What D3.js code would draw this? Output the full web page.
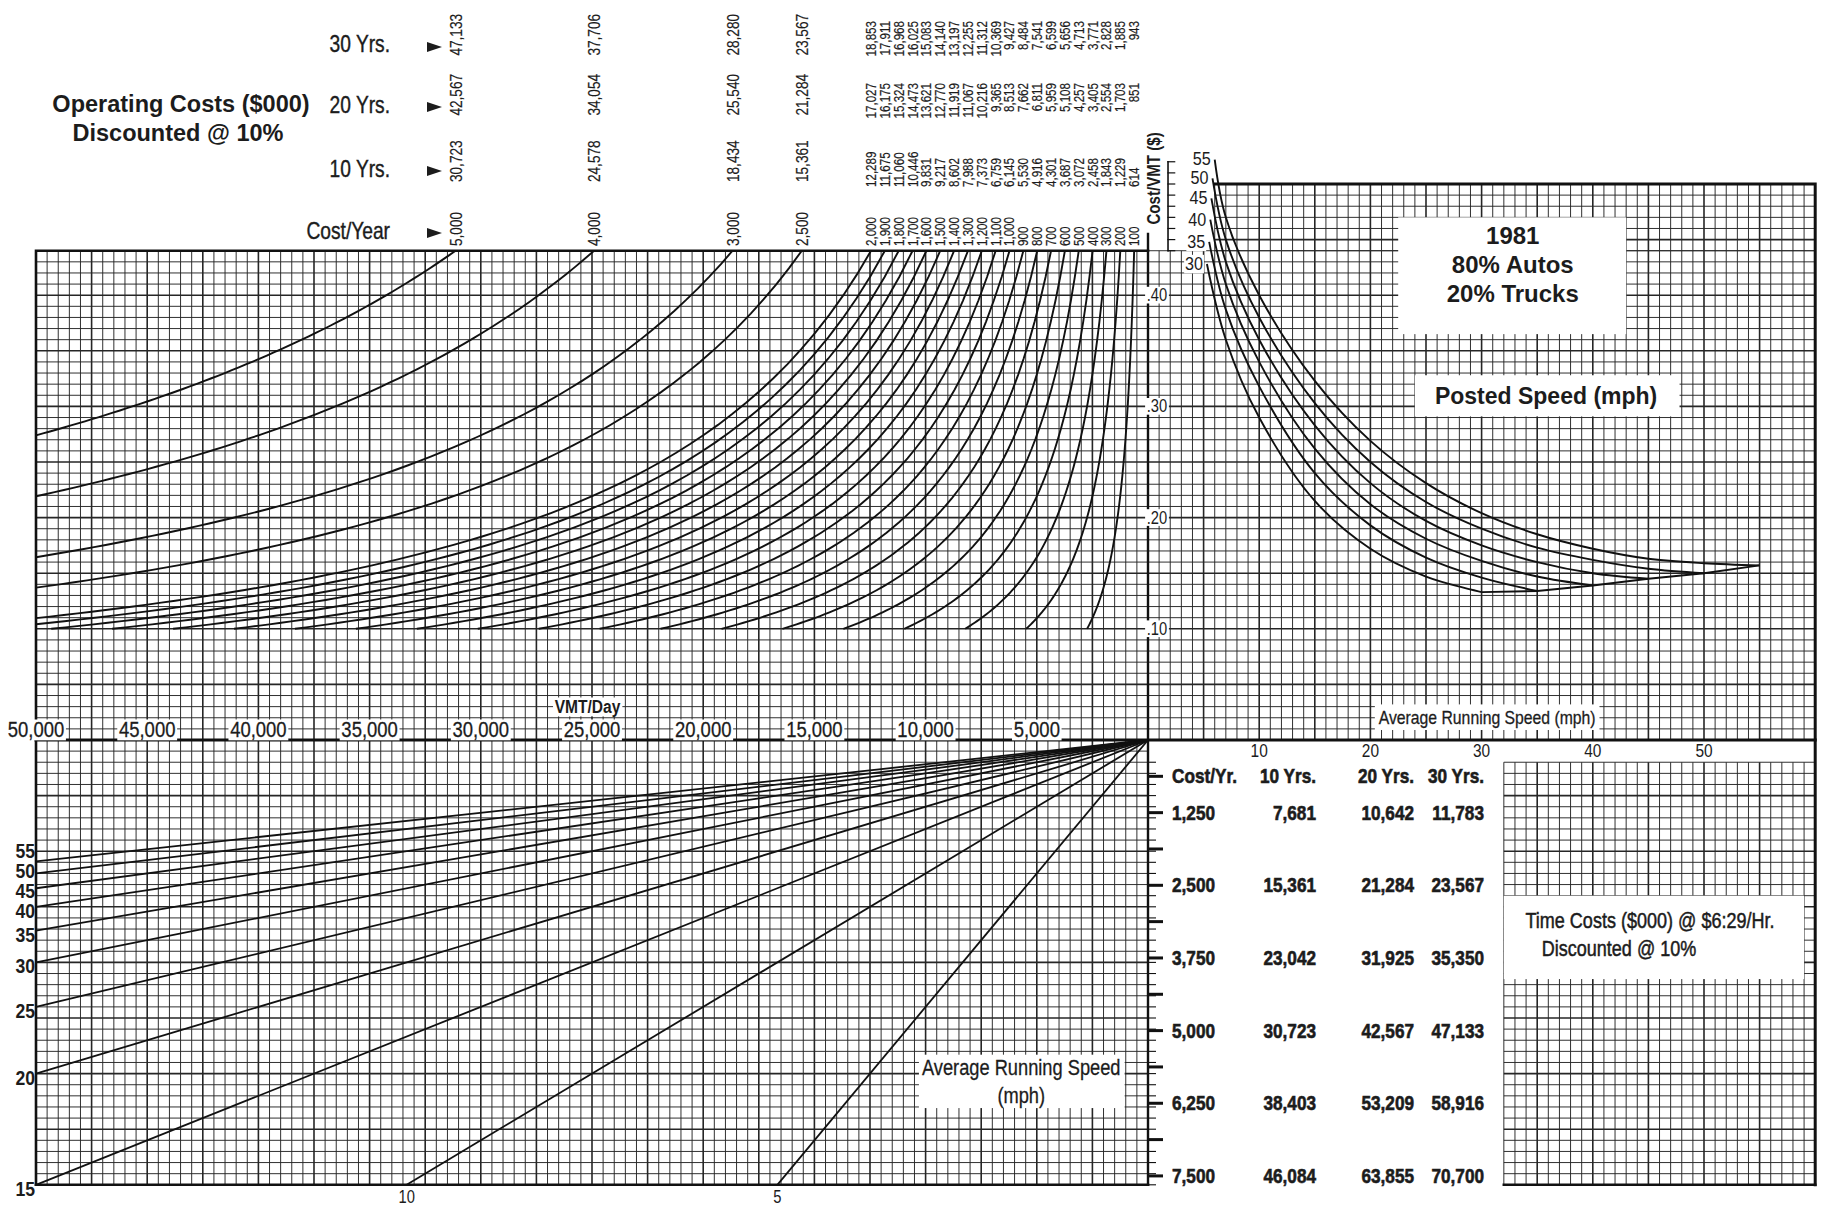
<!DOCTYPE html>
<html>
<head>
<meta charset="utf-8">
<script src="https://cdn.jsdelivr.net/npm/d3@7"></script>
<style>
body { margin: 0; background: #fff; }
text { fill: #1c1c1c; font-family: "Liberation Sans", Arial, sans-serif; }
</style>
</head>
<body>
<svg id="chart" width="1828" height="1217"></svg>
<script>
const costPerYear = [5000, 4000, 3000, 2500, 2000, 1900, 1800, 1700, 1600, 1500, 1400, 1300,
                     1200, 1100, 1000, 900, 800, 700, 600, 500, 400, 300, 200, 100];
const pv10 = [30723, 24578, 18434, 15361, 12289, 11675, 11060, 10446, 9831, 9217, 8602, 7988,
              7373, 6759, 6145, 5530, 4916, 4301, 3687, 3072, 2458, 1843, 1229, 614];
const pv20 = [42567, 34054, 25540, 21284, 17027, 16175, 15324, 14473, 13621, 12770, 11919, 11067,
              10216, 9365, 8513, 7662, 6811, 5959, 5108, 4257, 3405, 2554, 1703, 851];
const pv30 = [47133, 37706, 28280, 23567, 18853, 17911, 16968, 16025, 15083, 14140, 13197, 12255,
              11312, 10369, 9427, 8484, 7541, 6599, 5656, 4713, 3771, 2828, 1885, 943];

const vmtTicks = [50000, 45000, 40000, 35000, 30000, 25000, 20000, 15000, 10000, 5000];
const costVmtTicks = [0.10, 0.20, 0.30, 0.40];
const avgSpeedTicks = [10, 20, 30, 40, 50];
const runSpeeds = [55, 50, 45, 40, 35, 30, 25, 20, 15, 10, 5];

// posted speed curves: [average running speed (mph), cost/VMT ($)]
const postedSpeeds = [30, 35, 40, 45, 50, 55];
const posted30 = [[5.3, .428], [7, .36], [10, .29], [15, .215], [20, .172], [25, .147], [30, .133]];
const posted35 = [[5.5, .448], [7, .387], [10, .318], [15, .24], [20, .193], [25, .164], [30, .146], [35, .134]];
const posted40 = [[5.6, .468], [7, .41], [10, .34], [15, .262], [20, .212], [25, .181], [30, .161], [35, .147], [40, .139]];
const posted45 = [[5.7, .487], [7, .43], [10, .36], [15, .283], [20, .231], [25, .197], [30, .175], [35, .16], [40, .15], [45, .145]];
const posted50 = [[5.8, .505], [7, .45], [10, .38], [15, .303], [20, .25], [25, .214], [30, .19], [35, .173], [40, .162], [45, .154], [50, .150]];
const posted55 = [[6.0, .522], [7, .47], [10, .4], [15, .323], [20, .269], [25, .231], [30, .204], [35, .185], [40, .172], [45, .163], [50, .159], [55, .157]];
const postedCurves = [posted30, posted35, posted40, posted45, posted50, posted55];

// time cost table
const timeCostYr = [1250, 2500, 3750, 5000, 6250, 7500];
const time10 = [7681, 15361, 23042, 30723, 38403, 46084];
const time20 = [10642, 21284, 31925, 42567, 53209, 63855];
const time30 = [11783, 23567, 35350, 47133, 58916, 70700];
const hourlyRate = 6.29;

// ---- layout: one square grid, origin where the four panels meet ----
const u = 11.12, X0 = 1148, Y0 = 740;
const gx = c => X0 + c * u;
const gy = c => Y0 - c * u;

const svg = d3.select("#chart");
const fmt = d3.format(",");

const vmtX = d3.scaleLinear().domain([0, 50000]).range([gx(0), gx(-100)]);
const costY = d3.scaleLinear().domain([0, 0.5]).range([gy(0), gy(50)]);
const speedX = d3.scaleLinear().domain([0, 60]).range([gx(0), gx(60)]);
const hoursY = d3.scaleLinear().domain([0, 50000 / 15]).range([gy(0), gy(-40)]);
const costYrY = v => hoursY(v * 1000 / (hourlyRate * 365));

// condensed text: Liberation Sans squeezed sideways (no narrow face installed)
function ntext(str, x, y, o) {
    const g = svg.append("g")
        .attr("transform", `translate(${x},${y})${o.rot ? ` rotate(${o.rot})` : ""} scale(${o.sx || 0.82},1)`);
    const r = o.box ? g.append("rect").attr("fill", "#fff") : null;
    const t = g.append("text")
        .attr("font-size", o.size)
        .attr("font-weight", o.bold ? "bold" : "normal")
        .attr("text-anchor", o.anchor || "start")
        .text(str);
    if (o.mid) t.attr("dominant-baseline", "central");
    if (o.heavy) t.attr("stroke", "#1c1c1c").attr("stroke-width", o.heavy);
    if (r) {
        const b = t.node().getBBox(), p = o.box;
        r.attr("x", b.x - p).attr("y", b.y + 2).attr("width", b.width + 2 * p).attr("height", b.height - 3);
    }
    return t;
}

// draws grid lines over a block of cells
function grid(x0, x1, y0, y1) {
    const g = svg.append("g").attr("stroke", "#262626");
    g.selectAll("line.v").data(d3.range(x0, x1 + 1)).join("line")
        .attr("x1", d => gx(d)).attr("x2", d => gx(d))
        .attr("y1", gy(y0)).attr("y2", gy(y1))
        .attr("stroke-width", d => d % 5 === 0 ? 1.6 : 0.95);
    g.selectAll("line.h").data(d3.range(y0, y1 + 1)).join("line")
        .attr("y1", d => gy(d)).attr("y2", d => gy(d))
        .attr("x1", gx(x0)).attr("x2", gx(x1))
        .attr("stroke-width", d => d % 5 === 0 ? 1.6 : 0.95);
}

grid(-100, 60, 0, 44);   // top panels
grid(6, 60, 44, 50);     // top of right panel
grid(-100, 0, -40, 0);   // bottom left
grid(32, 60, -40, -2);   // bottom right

// white caption boxes over the grid
function whiteBox(cx0, cy0, cx1, cy1) {
    svg.append("rect").attr("fill", "#fff")
        .attr("x", gx(cx0)).attr("y", gy(cy1))
        .attr("width", (cx1 - cx0) * u).attr("height", (cy1 - cy0) * u);
}
whiteBox(32, -21.5, 59, -14);        // time costs caption
whiteBox(22.5, 36.5, 43, 47);        // 1981 box
whiteBox(24, 29.1, 47.8, 32.8);      // posted speed caption
whiteBox(-20.6, -33.1, -2.1, -28.3); // bottom running speed caption
whiteBox(20.4, 0.9, 40.6, 3.2);      // top running speed caption

// ---- borders and axes ----
const frame = svg.append("g").attr("stroke", "#111").attr("fill", "none").attr("stroke-linecap", "square");
frame.append("path").attr("stroke-width", 2.6)
    .attr("d", `M${gx(-100)},${gy(-40)}V${gy(44)}H${gx(0)}`);
frame.append("path").attr("stroke-width", 3)
    .attr("d", `M${gx(6)},${gy(50)}H${gx(60)}V${gy(-40)}`);
frame.append("path").attr("stroke-width", 2.6)
    .attr("d", `M${gx(-100)},${gy(-40)}H${gx(0)}M${gx(32)},${gy(-40)}H${gx(60)}`);
frame.append("line").attr("stroke-width", 3)
    .attr("x1", gx(-100)).attr("x2", gx(60)).attr("y1", Y0).attr("y2", Y0);
frame.append("line").attr("stroke-width", 2.4)
    .attr("x1", X0).attr("x2", X0).attr("y1", gy(45.5)).attr("y2", gy(-40));

// short scale above the cost/VMT axis
frame.append("line").attr("stroke-width", 1.6)
    .attr("x1", gx(1.8)).attr("x2", gx(1.8)).attr("y1", gy(52)).attr("y2", gy(44));
frame.selectAll("line.st").data(d3.range(44, 52.5, 1)).join("line").attr("stroke-width", 1.2)
    .attr("x1", gx(1.8)).attr("x2", gx(2.4)).attr("y1", d => gy(d)).attr("y2", d => gy(d));

// ticks along the time-cost axis (table side)
const tk = svg.append("g").attr("stroke", "#111");
tk.selectAll("line.mi").data(d3.range(2, 41)).join("line").attr("stroke-width", 1.1)
    .attr("x1", X0).attr("x2", X0 + 8).attr("y1", d => gy(-d)).attr("y2", d => gy(-d));
tk.selectAll("line.ma").data(d3.range(625, 7600, 625)).join("line").attr("stroke-width", 3)
    .attr("x1", X0).attr("x2", X0 + 15).attr("y1", d => costYrY(d)).attr("y2", d => costYrY(d));

// ---- top left: lines of constant operating cost per year ----
const curveLine = d3.line().x(d => vmtX(d[0])).y(d => costY(d[1]));
costPerYear.forEach(c => {
    const k = c * 1000 / 365;               // cost/VMT * VMT/day
    const vTop = k / 0.44, vEnd = Math.min(50000, k / 0.10);
    const pts = d3.range(0, 61).map(i => {
        const v = vTop + (vEnd - vTop) * i / 60;
        return [v, k / v];
    });
    svg.append("path").attr("d", curveLine(pts))
        .attr("fill", "none").attr("stroke", "#111").attr("stroke-width", 1.9);
});

// column labels above the curves
const colX = costPerYear.map(c => vmtX(c * 1000 / 365 / 0.44));
const big = i => i < 4;
function rotatedColumn(values, rowY, anchor) {
    values.forEach((d, i) => ntext(fmt(d), colX[i], rowY(i),
        {size: big(i) ? 17 : 14.5, anchor: anchor, rot: -90, mid: true, sx: 0.8, heavy: 0.2}));
}
rotatedColumn(pv30, i => big(i) ? 14 : 21, "end");
rotatedColumn(pv20, i => big(i) ? 74 : 83, "end");
rotatedColumn(pv10, i => big(i) ? 182 : 187, "start");
rotatedColumn(costPerYear, i => 246, "start");

// row captions with pointers
const rowCaps = [["30 Yrs.", 52, 47], ["20 Yrs.", 113, 107], ["10 Yrs.", 177, 171], ["Cost/Year", 239, 233]];
rowCaps.forEach(r => {
    ntext(r[0], 390, r[1], {size: 24, anchor: "end", sx: 0.8, heavy: 0.4});
    svg.append("path").attr("fill", "#1c1c1c")
        .attr("d", `M427,${r[2] - 5}L442,${r[2]}L427,${r[2] + 5}Z`);
});
svg.append("text").attr("font-weight", "bold").attr("font-size", 23.5).attr("text-anchor", "middle")
    .attr("x", 181).attr("y", 112).text("Operating Costs ($000)");
svg.append("text").attr("font-weight", "bold").attr("font-size", 23.5).attr("text-anchor", "middle")
    .attr("x", 178).attr("y", 141).text("Discounted @ 10%");

// cost/VMT axis labels
costVmtTicks.forEach(v => ntext("." + Math.round(v * 100), X0 + 9, costY(v) + 6,
    {size: 18, anchor: "middle", box: 2}));
ntext("Cost/VMT ($)", X0 + 6, gy(50.5), {size: 18, bold: true, anchor: "middle", rot: -90, mid: true, sx: 0.84});

// ---- top right: posted speed curves ----
const spLine = d3.line().x(d => speedX(d[0])).y(d => costY(d[1])).curve(d3.curveCatmullRom);
postedCurves.forEach(pts => {
    svg.append("path").attr("d", spLine(pts))
        .attr("fill", "none").attr("stroke", "#111").attr("stroke-width", 1.9);
});
svg.append("path")
    .attr("d", d3.line().x(d => speedX(d[0])).y(d => costY(d[1]))(postedCurves.map(p => p[p.length - 1])))
    .attr("fill", "none").attr("stroke", "#111").attr("stroke-width", 1.9);

// posted speed labels at the curve starts, nudged apart (30 lowest, 55 highest)
const postLab = postedSpeeds.map((s, i) => ({s, x: speedX(postedCurves[i][0][0]) - 4, y: costY(postedCurves[i][0][1])}));
for (let i = 1; i < postLab.length; i++) postLab[i].y = Math.min(postLab[i].y, postLab[i - 1].y - 19.5);
postLab.forEach(d => ntext(d.s, d.x, d.y + 6, {size: 19, anchor: "end", box: 1, sx: 0.85}));

svg.append("text").attr("font-weight", "bold").attr("font-size", 24).attr("text-anchor", "middle")
    .attr("x", gx(32.8)).attr("y", 244).text("1981");
svg.append("text").attr("font-weight", "bold").attr("font-size", 24).attr("text-anchor", "middle")
    .attr("x", gx(32.8)).attr("y", 273).text("80% Autos");
svg.append("text").attr("font-weight", "bold").attr("font-size", 24).attr("text-anchor", "middle")
    .attr("x", gx(32.8)).attr("y", 302).text("20% Trucks");
svg.append("text").attr("font-weight", "bold").attr("font-size", 23).attr("text-anchor", "middle")
    .attr("x", gx(35.8)).attr("y", 404).text("Posted Speed (mph)");
ntext("Average Running Speed (mph)", gx(30.5), 724, {size: 19, anchor: "middle", sx: 0.83, heavy: 0.3});

// speed axis along the top of the table
avgSpeedTicks.forEach(s => ntext(s, speedX(s), 757, {size: 18, anchor: "middle", sx: 0.86}));

// VMT/day axis
vmtTicks.forEach(v => ntext(fmt(v), vmtX(v), Y0 - 3, {size: 22, anchor: "middle", box: 2, sx: 0.84, heavy: 0.3}));
ntext("VMT/Day", vmtX(25200), 713, {size: 19, bold: true, anchor: "middle", box: 2, sx: 0.82});

// ---- bottom left: running speed rays ----
const hMax = hoursY.domain()[1];
const rays = runSpeeds.map(s => {
    const h = 50000 / s;
    return h <= hMax ? {s, v: 50000, h} : {s, v: hMax * s, h: hMax};
});
svg.append("g").selectAll("line").data(rays).join("line")
    .attr("x1", vmtX(0)).attr("y1", hoursY(0))
    .attr("x2", d => vmtX(d.v)).attr("y2", d => hoursY(d.h))
    .attr("stroke", "#111").attr("stroke-width", 1.8);

// left edge labels, spread so they do not collide
const edgeRays = rays.filter(d => d.v === 50000).map(d => ({s: d.s, y: hoursY(d.h) + 4}));
for (let i = edgeRays.length - 2; i >= 0; i--) {
    edgeRays[i].y = Math.min(edgeRays[i].y, edgeRays[i + 1].y - 20);
}
edgeRays.forEach(d => ntext(d.s, gx(-100) - 1, d.y + 7, {size: 20, bold: true, anchor: "end", sx: 0.88}));
rays.filter(d => d.v < 50000).forEach(d =>
    ntext(d.s, vmtX(d.v), gy(-40) + 18, {size: 18, anchor: "middle"}));
ntext("Average Running Speed", gx(-11.4), 1075, {size: 22, anchor: "middle", sx: 0.83, heavy: 0.3});
ntext("(mph)", gx(-11.4), 1103, {size: 22, anchor: "middle", sx: 0.83, heavy: 0.3});

// ---- bottom right: time cost table ----
const tOpt = (a) => ({size: 20, bold: true, anchor: a, sx: 0.86, heavy: 0.6});
ntext("Cost/Yr.", 1172, 783, tOpt("start"));
[["10 Yrs.", 1316], ["20 Yrs.", 1414], ["30 Yrs.", 1484]].forEach(h => ntext(h[0], h[1], 783, tOpt("end")));
timeCostYr.forEach((c, i) => {
    const y = costYrY(c) + 7;
    ntext(fmt(c), 1172, y, tOpt("start"));
    ntext(fmt(time10[i]), 1316, y, tOpt("end"));
    ntext(fmt(time20[i]), 1414, y, tOpt("end"));
    ntext(fmt(time30[i]), 1484, y, tOpt("end"));
});
ntext("Time Costs ($000) @ $6:29/Hr.", 1650, 928, {size: 22, anchor: "middle", sx: 0.82, heavy: 0.5});
ntext("Discounted @ 10%", 1619, 956, {size: 22, anchor: "middle", sx: 0.82, heavy: 0.5});
</script>
</body>
</html>
